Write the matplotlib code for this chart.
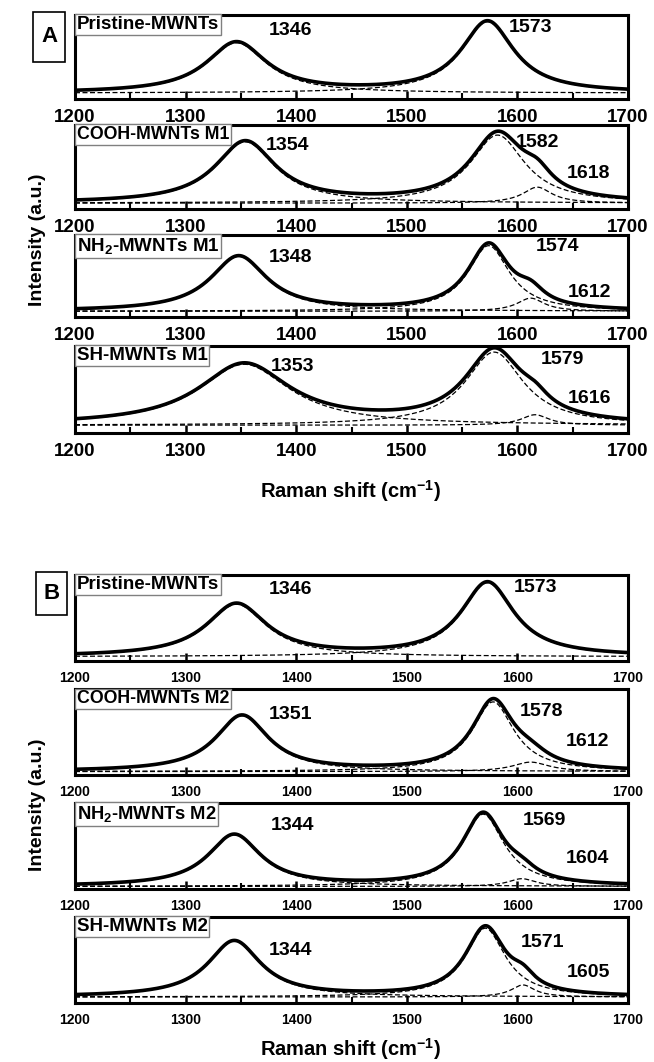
import numpy as np
import matplotlib
matplotlib.use('Agg')
import matplotlib.pyplot as plt
from matplotlib.patches import Rectangle
from matplotlib.ticker import MultipleLocator

plt.rcParams['font.family'] = ['Liberation Sans', 'DejaVu Sans']
plt.rcParams['font.weight'] = 'bold'
plt.rcParams['mathtext.default'] = 'regular'

# ---------------- data (fitted Raman bands) ----------------
# Panel A : pristine + M1 functionalisation
names_A = ['Pristine-MWNTs', 'COOH-MWNTs M1', 'NH$_2$-MWNTs M1', 'SH-MWNTs M1']
base_A = [0.07, 0.07, 0.07, 0.09]
d_center_A = [1346, 1354, 1348, 1353]
d_height_A = [0.60, 0.73, 0.67, 0.70]
d_fwhm_A = [66, 66, 62, 100]
g_center_A = [1573, 1582, 1574, 1579]
g_height_A = [0.85, 0.81, 0.80, 0.84]
g_fwhm_A = [58, 60, 46, 64]
dp_center_A = [None, 1618, 1612, 1616]
dp_height_A = [0.0, 0.19, 0.16, 0.12]
dp_fwhm_A = [0, 32, 30, 30]

# Panel B : pristine + M2 functionalisation
names_B = ['Pristine-MWNTs', 'COOH-MWNTs M2', 'NH$_2$-MWNTs M2', 'SH-MWNTs M2']
base_B = [0.05, 0.04, 0.03, 0.07]
d_center_B = [1346, 1351, 1344, 1344]
d_height_B = [0.61, 0.65, 0.60, 0.65]
d_fwhm_B = [66, 58, 58, 58]
g_center_B = [1573, 1578, 1569, 1571]
g_height_B = [0.86, 0.81, 0.84, 0.80]
g_fwhm_B = [58, 46, 46, 44]
dp_center_B = [None, 1612, 1604, 1605]
dp_height_B = [0.0, 0.11, 0.09, 0.14]
dp_fwhm_B = [0, 40, 30, 26]

xticks = [1200, 1300, 1400, 1500, 1600, 1700]

# ---------------- layout (pixels of the 654 x 1062 figure) ----------------
W, H = 654, 1062
ax_left, ax_width = 75, 553
tops_A, heights_A = [15, 125, 235, 346], [84, 84, 82, 87]
tops_B, heights_B = [575, 689, 803, 917], [86, 86, 86, 86]
name_size_A = [13.5, 12.8, 13.5, 13.5]
name_size_B = [13.5, 12.8, 13.2, 13.5]
# peak-label positions in axes fraction: D, G, D'
lab_A = [[(0.389, 0.82), (0.823, 0.857), None],
         [(0.385, 0.76), (0.837, 0.786), (0.928, 0.417)],
         [(0.389, 0.72), (0.873, 0.86), (0.931, 0.30)],
         [(0.394, 0.76), (0.881, 0.85), (0.931, 0.40)]]
lab_B = [[(0.389, 0.826), (0.832, 0.849), None],
         [(0.389, 0.70), (0.844, 0.733), (0.926, 0.384)],
         [(0.394, 0.744), (0.848, 0.80), (0.926, 0.36)],
         [(0.389, 0.616), (0.846, 0.70), (0.928, 0.36)]]

x = np.linspace(1200, 1700, 1001)


def lorentz(x, c, h, w):
    return h / (1 + ((x - c) / (w / 2.0)) ** 2)


fig = plt.figure(figsize=(W / 100, H / 100), dpi=100)


def draw_panel(ax, name, name_size, base, bands, labels, tick_size):
    comps = []
    for (c, h, w) in bands:
        if c is None:
            continue
        comps.append(lorentz(x, c, h, w))
    for comp in comps:
        ax.plot(x, base + comp, color='black', lw=0.9, ls=(0, (4, 2)))
    ax.plot(x, base + np.sum(comps, axis=0), color='black', lw=2.6)

    for (c, h, w), pos in zip(bands, labels):
        if c is None:
            continue
        ax.text(pos[0], pos[1], str(c), transform=ax.transAxes, ha='center',
                va='center', fontsize=14, fontweight='bold')

    ax.text(0.003, 0.985, name, transform=ax.transAxes, ha='left', va='top',
            fontsize=name_size, fontweight='bold',
            bbox=dict(boxstyle='square,pad=0.1', fc='white', ec='#808080', lw=1))

    ax.set_xlim(1200, 1700)
    ax.set_ylim(0, 1)
    ax.set_yticks([])
    ax.set_xticks(xticks)
    ax.xaxis.set_minor_locator(MultipleLocator(50))
    ax.tick_params(axis='x', which='major', direction='in', length=6, width=1.8,
                   labelsize=tick_size, pad=7)
    ax.tick_params(axis='x', which='minor', direction='in', length=4, width=1.5)
    for lab in ax.get_xticklabels():
        lab.set_fontweight('bold')
    for sp in ax.spines.values():
        sp.set_linewidth(2.2)


for i in range(4):
    ax = fig.add_axes([ax_left / W, 1 - (tops_A[i] + heights_A[i]) / H,
                       ax_width / W, heights_A[i] / H])
    bands = [(d_center_A[i], d_height_A[i], d_fwhm_A[i]),
             (g_center_A[i], g_height_A[i], g_fwhm_A[i]),
             (dp_center_A[i], dp_height_A[i], dp_fwhm_A[i])]
    draw_panel(ax, names_A[i], name_size_A[i], base_A[i], bands, lab_A[i], 13.5)

for i in range(4):
    ax = fig.add_axes([ax_left / W, 1 - (tops_B[i] + heights_B[i]) / H,
                       ax_width / W, heights_B[i] / H])
    bands = [(d_center_B[i], d_height_B[i], d_fwhm_B[i]),
             (g_center_B[i], g_height_B[i], g_fwhm_B[i]),
             (dp_center_B[i], dp_height_B[i], dp_fwhm_B[i])]
    draw_panel(ax, names_B[i], name_size_B[i], base_B[i], bands, lab_B[i], 10)

# axis titles
for yc in [240, 805]:
    fig.text(38 / W, 1 - yc / H, 'Intensity (a.u.)', rotation=90, ha='center',
             va='center', fontsize=14, fontweight='bold')
for yc in [491, 1049]:
    fig.text(351 / W, 1 - yc / H, 'Raman shift (cm$^{-1}$)', ha='center',
             va='center', fontsize=14.5, fontweight='bold')

# panel letters
for letter, (x0, y0, x1, y1) in [('A', (33, 12, 65, 62)), ('B', (36, 572, 67, 615))]:
    fig.add_artist(Rectangle((x0 / W, 1 - y1 / H), (x1 - x0) / W, (y1 - y0) / H,
                             transform=fig.transFigure, fill=False, ec='black', lw=1.2))
    fig.text((x0 + x1) / 2 / W, 1 - (y0 + y1) / 2 / H, letter, ha='center',
             va='center', fontsize=16, fontweight='bold')

fig.savefig('out.png', dpi=100)
